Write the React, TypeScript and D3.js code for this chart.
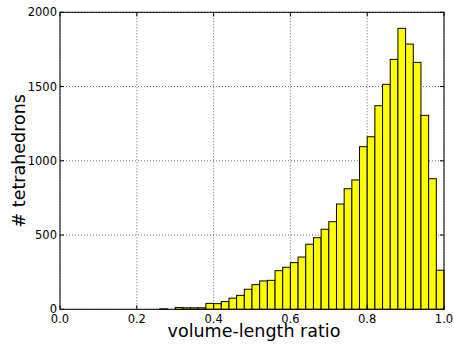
import { useMemo } from "react";
import * as d3 from "d3";

// histogram of volume-length ratio, 50 bins over [0, 1]
const binEdges: number[] = d3.range(0, 51).map((i) => i / 50);
const binCounts: number[] = [
  0, 0, 0, 0, 0, 0, 0, 0, 0, 0,
  0, 0, 0, 3, 0, 12, 10, 10, 10, 40,
  38, 52, 75, 94, 135, 166, 191, 195, 260, 283,
  314, 352, 438, 482, 539, 590, 709, 812, 871, 1095,
  1162, 1371, 1515, 1683, 1892, 1786, 1663, 1306, 879, 263,
];

const xTicks: number[] = [0, 0.2, 0.4, 0.6, 0.8, 1.0];
const yTicks: number[] = [0, 500, 1000, 1500, 2000];

const xLabel = "volume-length ratio";
const yLabel = "# tetrahedrons";

type Bin = { x0: number; x1: number; count: number };

export default function App() {
  const width = 454;
  const height = 345;
  const margin = { top: 12.3, right: 10, bottom: 35.7, left: 60 };
  const font = "'DejaVu Sans', sans-serif";

  const bins: Bin[] = useMemo(
    () => binCounts.map((c, i) => ({ x0: binEdges[i], x1: binEdges[i + 1], count: c })),
    []
  );

  const xScale = d3
    .scaleLinear()
    .domain([0, 1])
    .range([margin.left, width - margin.right]);

  const yScale = d3
    .scaleLinear()
    .domain([0, 2000])
    .range([height - margin.bottom, margin.top]);

  const left = margin.left;
  const right = width - margin.right;
  const top = margin.top;
  const bottom = height - margin.bottom;

  return (
    <svg
      width={width}
      height={height}
      viewBox={`0 0 ${width} ${height}`}
      style={{ position: "absolute", left: 0, top: 0, background: "#fff" }}
    >
      {/* grid */}
      {xTicks.map((t) => (
        <line
          key={`gx-${t}`}
          x1={xScale(t)}
          x2={xScale(t)}
          y1={top}
          y2={bottom}
          stroke="#000"
          strokeWidth={0.6}
          strokeDasharray="1,2"
        />
      ))}
      {yTicks.map((t) => (
        <line
          key={`gy-${t}`}
          x1={left}
          x2={right}
          y1={yScale(t)}
          y2={yScale(t)}
          stroke="#000"
          strokeWidth={0.6}
          strokeDasharray="1,2"
        />
      ))}

      {/* bars */}
      {bins.map((b, i) =>
        b.count > 0 ? (
          <rect
            key={i}
            x={xScale(b.x0)}
            y={yScale(b.count)}
            width={xScale(b.x1) - xScale(b.x0)}
            height={bottom - yScale(b.count)}
            fill="#ffff00"
            stroke="#000"
            strokeWidth={1}
          />
        ) : null
      )}

      {/* frame */}
      <rect
        x={left}
        y={top}
        width={right - left}
        height={bottom - top}
        fill="none"
        stroke="#000"
        strokeWidth={1}
      />

      {/* ticks, inward on all sides */}
      {xTicks.map((t) => (
        <g key={`tx-${t}`}>
          <line x1={xScale(t)} x2={xScale(t)} y1={bottom} y2={bottom - 4} stroke="#000" />
          <line x1={xScale(t)} x2={xScale(t)} y1={top} y2={top + 4} stroke="#000" />
          <text
            x={xScale(t)}
            y={bottom + 14}
            textAnchor="middle"
            fontFamily={font}
            fontSize={11.5}
          >
            {t.toFixed(1)}
          </text>
        </g>
      ))}
      {yTicks.map((t) => (
        <g key={`ty-${t}`}>
          <line x1={left} x2={left + 4} y1={yScale(t)} y2={yScale(t)} stroke="#000" />
          <line x1={right} x2={right - 4} y1={yScale(t)} y2={yScale(t)} stroke="#000" />
          <text
            x={left - 3}
            y={yScale(t)}
            dy="0.35em"
            textAnchor="end"
            fontFamily={font}
            fontSize={11.5}
          >
            {t}
          </text>
        </g>
      ))}

      {/* axis labels */}
      <text
        x={(left + right) / 2 + 2}
        y={336.5}
        textAnchor="middle"
        fontFamily={font}
        fontSize={17.5}
      >
        {xLabel}
      </text>
      <text
        transform={`translate(${25}, ${(top + bottom) / 2}) rotate(-90)`}
        textAnchor="middle"
        fontFamily={font}
        fontSize={17.5}
      >
        {yLabel}
      </text>
    </svg>
  );
}
